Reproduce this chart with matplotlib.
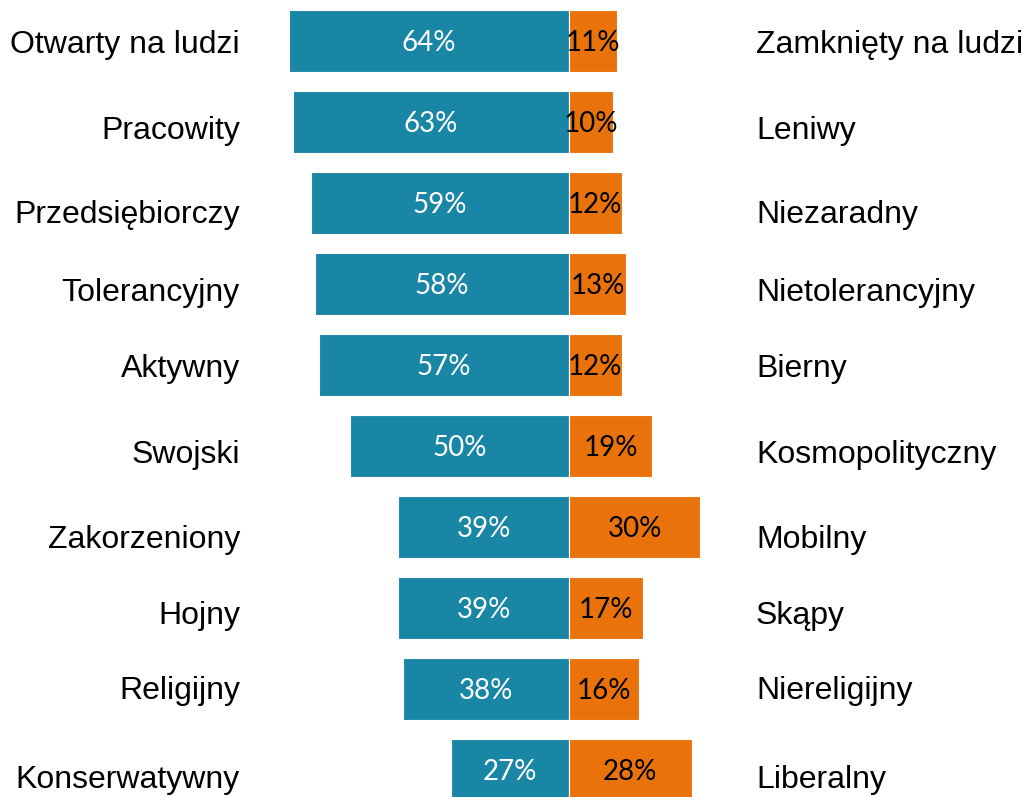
import matplotlib
matplotlib.use('Agg')
import matplotlib.pyplot as plt
import numpy as np

# Data: share choosing the left trait vs. the right trait (%)
left_traits = ["Otwarty na ludzi", "Pracowity", "Przedsiębiorczy", "Tolerancyjny",
               "Aktywny", "Swojski", "Zakorzeniony", "Hojny", "Religijny",
               "Konserwatywny"]
right_traits = ["Zamknięty na ludzi", "Leniwy", "Niezaradny", "Nietolerancyjny",
                "Bierny", "Kosmopolityczny", "Mobilny", "Skąpy", "Niereligijny",
                "Liberalny"]
left_pct = [64, 63, 59, 58, 57, 50, 39, 39, 38, 27]
right_pct = [11, 10, 12, 13, 12, 19, 30, 17, 16, 28]

# Colours
blue = '#1A86A6'
orange = '#E9730A'

# Layout (pixels of a 1025x797 canvas)
W, H = 1025, 797
px_per_pct = 4.38
center_px = 569
row0_px, row_step_px, bar_h_px = 41, 81, 62
# trait labels sit on their own baselines, slightly off the bar rows
label_baselines = [53, 139, 223, 301, 377, 463, 548, 624, 699, 788]

fig = plt.figure(figsize=(W / 100, H / 100), dpi=100)
ax = fig.add_axes([0, 0, 1, 1])
ax.set_xlim(-center_px / px_per_pct, (W - center_px) / px_per_pct)
n = len(left_pct)
ax.set_ylim((n - 1) + (H - (row0_px + (n - 1) * row_step_px)) / row_step_px,
            -row0_px / row_step_px)
ax.axis('off')

y = np.arange(n)
bh = bar_h_px / row_step_px
ax.barh(y, [-v for v in left_pct], height=bh, color=blue, edgecolor='white', linewidth=0.8)
ax.barh(y, right_pct, height=bh, color=orange, edgecolor='white', linewidth=0.8)

# Percentages inside bars
val_font = dict(family='Lato', fontsize=20)
dy = 10 / row_step_px
for i in range(n):
    ax.text(-left_pct[i] / 2, y[i] + dy, f"{left_pct[i]}%", ha='center', va='baseline',
            color='white', **val_font)
    ax.text(right_pct[i] / 2, y[i] + dy, f"{right_pct[i]}%", ha='center', va='baseline',
            color='black', **val_font)

# Trait labels at both sides
lab_font = dict(family='Liberation Sans', fontsize=23, color='black')
for i in range(n):
    yb = 1 - label_baselines[i] / H
    fig.text(240 / W, yb, left_traits[i], ha='right', va='baseline', **lab_font)
    fig.text(756 / W, yb, right_traits[i], ha='left', va='baseline', **lab_font)

plt.savefig("out.png", dpi=100)
plt.close()
